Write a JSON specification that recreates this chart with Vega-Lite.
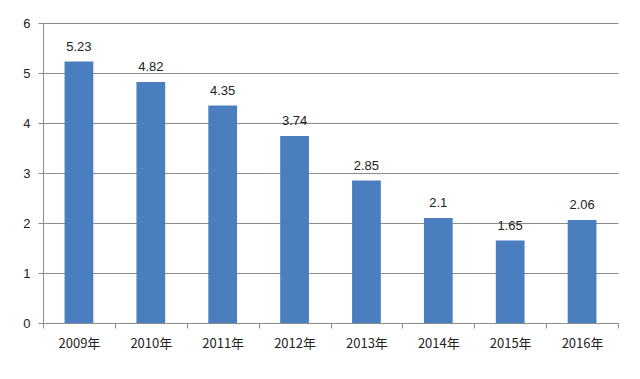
{
  "$schema": "https://vega.github.io/schema/vega-lite/v6.json",
  "width": 575,
  "height": 300,
  "autosize": "none",
  "padding": {"left": 43, "top": 23, "right": 22, "bottom": 56},
  "background": "white",
  "config": {
    "view": {"stroke": null},
    "font": "Noto Sans CJK SC"
  },
  "data": {
    "values": [
      {"year": "2009年", "value": 5.23, "label": "5.23"},
      {"year": "2010年", "value": 4.82, "label": "4.82"},
      {"year": "2011年", "value": 4.35, "label": "4.35"},
      {"year": "2012年", "value": 3.74, "label": "3.74"},
      {"year": "2013年", "value": 2.85, "label": "2.85"},
      {"year": "2014年", "value": 2.1, "label": "2.1"},
      {"year": "2015年", "value": 1.65, "label": "1.65"},
      {"year": "2016年", "value": 2.06, "label": "2.06"}
    ]
  },
  "encoding": {
    "x": {
      "field": "year",
      "type": "nominal",
      "sort": null,
      "scale": {"paddingInner": 0, "paddingOuter": 0},
      "axis": {
        "title": null,
        "labelAngle": 0,
        "tickBand": "extent",
        "tickSize": 5,
        "tickColor": "#8c8c8c",
        "domainColor": "#8c8c8c",
        "labelPadding": 9,
        "labelFontSize": 13,
        "labelColor": "#222222",
        "labelFont": "Noto Sans CJK SC"
      }
    },
    "y": {
      "field": "value",
      "type": "quantitative",
      "scale": {"domain": [0, 6], "nice": false},
      "axis": {
        "title": null,
        "values": [0, 1, 2, 3, 4, 5, 6],
        "tickSize": 5,
        "tickColor": "#8c8c8c",
        "domainColor": "#8c8c8c",
        "gridColor": "#8c8c8c",
        "gridWidth": 1,
        "labelPadding": 8,
        "labelFontSize": 13,
        "labelColor": "#222222",
        "labelFont": "Liberation Sans"
      }
    }
  },
  "layer": [
    {
      "mark": {"type": "bar", "width": {"band": 0.4}, "color": "#4a7ebf"}
    },
    {
      "mark": {"type": "text", "baseline": "bottom", "dy": -8, "fontSize": 13, "color": "#222222", "font": "Liberation Sans"},
      "encoding": {"text": {"field": "label"}}
    }
  ]
}
